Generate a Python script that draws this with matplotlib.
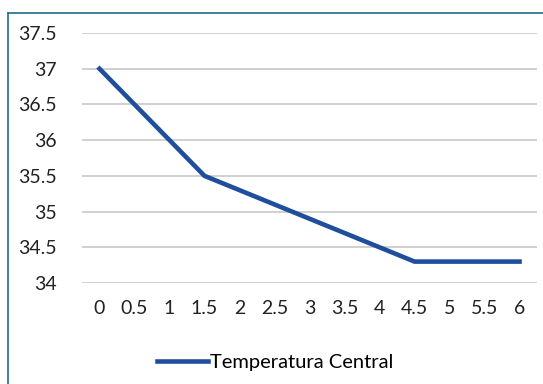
import matplotlib.pyplot as plt
from matplotlib.lines import Line2D

hours = ["0", "0.5", "1", "1.5", "2", "2.5", "3", "3.5", "4", "4.5", "5", "5.5", "6"]
temp_central = [37.0, 36.5, 36.0, 35.5, 35.3, 35.1, 34.9, 34.7, 34.5, 34.3, 34.3, 34.3, 34.3]
y_ticks = [34, 34.5, 35, 35.5, 36, 36.5, 37, 37.5]
y_labels = ["34", "34.5", "35", "35.5", "36", "36.5", "37", "37.5"]

plt.rcParams['font.family'] = ['Lato', 'DejaVu Sans']

fig = plt.figure(figsize=(5.43, 3.84), dpi=100)
ax = fig.add_axes([0.151, 0.263, 0.838, 0.651])

x = list(range(len(hours)))
line, = ax.plot(x, temp_central, color="#1f4e9c", lw=3.3, solid_joinstyle="miter",
                label="Temperatura Central")

ax.set_xlim(-0.5, len(hours) - 0.5)
ax.set_ylim(34, 37.5)
ax.set_yticks(y_ticks)
ax.set_yticklabels(y_labels)
ax.set_xticks(x)
ax.set_xticklabels(hours)
ax.tick_params(length=0, labelsize=14, colors="#222222")
ax.tick_params(axis="y", pad=18)
ax.tick_params(axis="x", pad=12)
ax.grid(axis="y", color="#c8c8c8", lw=1.2)
ax.set_axisbelow(True)
for s in ax.spines.values():
    s.set_visible(False)

fig.legend(handles=[line], loc="center", bbox_to_anchor=(0.507, 0.055), frameon=False,
           fontsize=14.5, handlelength=2.5, handletextpad=0.1)

# outer frame (only left and top edges visible in the crop)
fig.add_artist(Line2D([8 / 543, 8 / 543], [0, 1 - 13 / 384], transform=fig.transFigure,
                      color="#1f6e85", lw=1.2))
fig.add_artist(Line2D([8 / 543, 1], [1 - 13 / 384, 1 - 13 / 384], transform=fig.transFigure,
                      color="#1f6e85", lw=1.2))

fig.savefig("out.png", dpi=100)
